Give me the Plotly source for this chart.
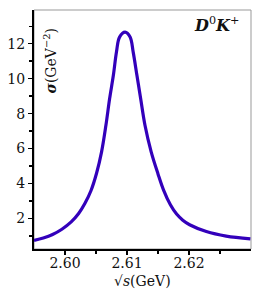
import plotly.graph_objects as go

# sqrt(s) in GeV and cross section sigma in GeV^-2
sqrt_s = [2.5950, 2.5965, 2.5980, 2.5995, 2.6010, 2.6022, 2.6032, 2.6042, 2.6051,
          2.6059, 2.6066, 2.6072, 2.6078, 2.6083, 2.6088, 2.6097,
          2.6105, 2.6110, 2.6116, 2.6122, 2.6129, 2.6139, 2.6150, 2.6159, 2.6170,
          2.6180, 2.6190, 2.6201, 2.6228, 2.6260, 2.6299]
sigma = [0.74, 0.88, 1.08, 1.38, 1.80, 2.28, 2.85, 3.60, 4.60,
         5.81, 7.33, 8.86, 10.19, 11.52, 12.38, 12.66,
         12.38, 11.52, 10.19, 8.86, 7.33, 5.81, 4.55, 3.62, 2.78,
         2.25, 1.90, 1.64, 1.25, 0.99, 0.83]

x_ticks = [2.60, 2.61, 2.62]
x_tick_labels = ["2.60", "2.61", "2.62"]
y_ticks = [2, 4, 6, 8, 10, 12]
y_tick_labels = ["2", "4", "6", "8", "10", "12"]

FONT = "DejaVu Serif, Liberation Serif, serif"
INK = "#111111"

fig = go.Figure()
fig.add_trace(go.Scatter(x=sqrt_s, y=sigma, mode="lines",
                         line=dict(color="#3300bb", width=3.2, shape="spline",
                                   smoothing=1.0),
                         hoverinfo="skip"))

fig.add_shape(type="rect", xref="paper", yref="paper", x0=0, y0=0, x1=1, y1=1,
              line=dict(color="#999999", width=1), layer="below")

fig.update_layout(
    width=256, height=296,
    margin=dict(l=34, r=5, t=10, b=47),
    paper_bgcolor="white", plot_bgcolor="white",
    showlegend=False,
    font=dict(family=FONT, size=14, color=INK),
    xaxis=dict(range=[2.595, 2.630], tickmode="array", tickvals=x_ticks,
               ticktext=x_tick_labels, ticks="outside", ticklen=4, tickwidth=1.5,
               tickcolor="black", showline=True, linecolor="black", linewidth=2,
               showgrid=False, zeroline=False, ticklabelstandoff=-4,
               tickfont=dict(family=FONT, size=14, color=INK),
               minor=dict(tickvals=[2.605, 2.615, 2.625], ticks="outside",
                          ticklen=3, tickwidth=1.5, tickcolor="black")),
    yaxis=dict(range=[0.25, 13.93], tickmode="array", tickvals=y_ticks,
               ticktext=y_tick_labels, ticks="outside", ticklen=4, tickwidth=1.5,
               tickcolor="black", showline=True, linecolor="black", linewidth=2,
               showgrid=False, zeroline=False,
               tickfont=dict(family=FONT, size=14, color=INK),
               minor=dict(tickvals=[1, 3, 5, 7, 9, 11, 13], ticks="outside",
                          ticklen=3, tickwidth=1.5, tickcolor="black")),
)

fig.add_annotation(xref="paper", yref="paper", x=0.074, y=0.785,
                   text="<b><i>σ</i></b>(GeV<sup>−2</sup>)", showarrow=False,
                   textangle=-90, font=dict(family=FONT, size=14, color=INK),
                   xanchor="center", yanchor="middle")
fig.add_annotation(xref="paper", yref="paper", x=0.955, y=0.94,
                   text="<b><i>D</i></b><sup>0</sup><b><i>K</i></b><sup>+</sup>",
                   showarrow=False, font=dict(family=FONT, size=16, color=INK),
                   xanchor="right", yanchor="middle")
fig.add_annotation(xref="paper", yref="paper", x=0.5, y=-0.135,
                   text="√<i>s</i>(GeV)", showarrow=False,
                   font=dict(family=FONT, size=14, color=INK),
                   xanchor="center", yanchor="middle")

fig.write_html("out.html",
               config={"displayModeBar": False, "staticPlot": True},
               post_script="document.body.style.margin='0px';"
                           "document.body.style.overflow='hidden';")
